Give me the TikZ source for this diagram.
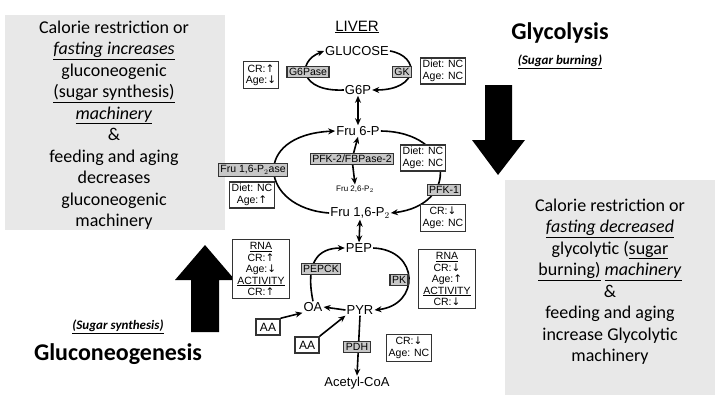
\documentclass[tikz,border=0pt]{standalone}
\usepackage{fontspec}
\setmainfont{Carlito}
\newfontfamily\diag{Liberation Sans}
\newfontfamily\sym{DejaVu Sans}
\usetikzlibrary{arrows.meta}
\newcommand{\UA}{{\sym\char"2191}}
\newcommand{\DA}{{\sym\char"2193}}
\begin{document}
\begin{tikzpicture}[x=1pt,y=-1pt,
  enz/.style={draw=black!80,line width=1.1pt,fill=black!22,inner sep=2pt,font=\diag\fontsize{10.5}{11}\selectfont},
  note/.style={draw=black!80,line width=1.3pt,fill=white,inner sep=2.5pt,align=center,font=\diag\fontsize{10.5}{11.5}\selectfont},
  met/.style={inner sep=1pt,font=\diag\fontsize{13}{14}\selectfont},
  flow/.style={line width=1.6pt,-{Stealth[length=7pt,width=6pt]}},
  side/.style={fill=black!9,draw=none},
  big/.style={align=center,font=\fontsize{18}{21.5}\selectfont}]
\useasboundingbox (0,0) rectangle (720,405);
\fill[white] (0,0) rectangle (720,405);
% side panels
\node[side,minimum width=220,minimum height=215,anchor=north west] (lp) at (5,15) {};
\node[big,anchor=north] (lt) at (114,17) {Calorie restriction or\\ \underline{\textit{fasting increases}}\\ gluconeogenic\\ \underline{(sugar synthesis)}\\ \underline{\textit{machinery}}\\ \&\\ feeding and aging\\ decreases\\ gluconeogenic\\ machinery};
\node[side,minimum width=210,minimum height=215,anchor=north west] (rp) at (505,180) {};
\node[big,anchor=north] (rt) at (610,195) {Calorie restriction or\\ \underline{\textit{fasting decreased}}\\ glycolytic (\underline{sugar}\\ \underline{burning)} \underline{\textit{machinery}}\\ \&\\ feeding and aging\\ increase Glycolytic\\ machinery};
\node[font=\bfseries\fontsize{24}{26}\selectfont] (gly) at (560,33) {Glycolysis};
\node[font=\bfseries\itshape\fontsize{13}{14}\selectfont] (sb) at (560,62) {\underline{(Sugar burning)}};
\node[font=\bfseries\fontsize{24}{26}\selectfont] (gng) at (118,354) {Gluconeogenesis};
\node[font=\bfseries\itshape\fontsize{13}{14}\selectfont] (ss) at (118,327) {\underline{(Sugar synthesis)}};
% big arrows
\fill (485,85) -- (512,85) -- (512,140) -- (525,140) -- (498,175) -- (472,140) -- (485,140) -- cycle;
\fill (191,332) -- (219,332) -- (219,280) -- (235,280) -- (205,245) -- (175,280) -- (191,280) -- cycle;
% metabolites
\node[font=\diag\fontsize{15}{16}\selectfont] (liver) at (357,27) {\underline{LIVER}};
\node[met] (glc) at (357,51) {GLUCOSE};
\node[met] (g6p) at (358,90) {G6P};
\node[met] (f6p) at (358,131) {Fru 6-P};
\node[met,font=\diag\fontsize{8}{9}\selectfont] (f26) at (355,189) {Fru 2,6-P$_2$};
\node[met] (f16) at (360,213) {Fru 1,6-P$_2$};
\node[met] (pep) at (359,248) {PEP};
\node[met] (oa) at (313,307) {OA};
\node[met] (pyr) at (360,310) {PYR};
\node[met] (acoa) at (357,383) {Acetyl-CoA};
% connectors
\draw[flow] (g6p.west) .. controls (300,92) and (296,62) .. (glc.west);
\draw[flow] (glc.east) .. controls (420,56) and (420,90) .. (g6p.east);
\draw[flow,{Stealth[length=7pt,width=6pt]}-{Stealth[length=7pt,width=6pt]}] (g6p.south) -- (f6p.north);
\draw[flow] (f16.west) .. controls (260,208) and (250,135) .. (f6p.west);
\draw[flow] (f6p.east) .. controls (455,132) and (460,205) .. (f16.east);
\coordinate (pfkc) at (352,159);
\draw[flow] (pfkc) -- (f6p.south);
\draw[flow] (pfkc) -- (f26.north);
\draw[flow,{Stealth[length=7pt,width=6pt]}-{Stealth[length=7pt,width=6pt]}] (f16.south) -- (pep.north);
\draw[flow] (pep.east) .. controls (420,250) and (420,305) .. (pyr.east);
\draw[flow] (oa.north) .. controls (305,262) and (318,248) .. (pep.west);
\draw[flow] (pyr.west) -- (oa.east);
\draw[flow] (pyr.south) -- (acoa.north);
% enzymes
\node[enz] (g6pase) at (308,72) {G6Pase};
\node[enz] (gk) at (402,72) {GK};
\node[enz] (pfk2) at (pfkc) {PFK-2/FBPase-2};
\node[enz] (fbp) at (253,170) {Fru 1,6-P$_2$ase};
\node[enz] (pfk1) at (444,190) {PFK-1};
\node[enz] (pepck) at (321,269) {PEPCK};
\node[enz] (pk) at (399,280) {PK};
\node[enz] (pdh) at (357,347) {PDH};
% notes
\node[note] (n1) at (261,75) {CR:\UA\\Age:\DA};
\node[note] (n2) at (443,71) {Diet: NC\\Age: NC};
\node[note] (n3) at (252,195) {Diet: NC\\Age:\UA};
\node[note] (n4) at (423,158) {Diet: NC\\Age: NC};
\node[note] (n5) at (443,218) {CR:\DA\\Age: NC};
\node[note,inner xsep=5pt] (n6) at (261,269) {\underline{RNA}\\CR:\UA\\Age:\DA\\\underline{ACTIVITY}\\CR:\UA};
\node[note,inner xsep=5pt] (n7) at (447,279) {\underline{RNA}\\CR:\DA\\Age:\UA\\\underline{ACTIVITY}\\CR:\DA};
\node[note,font=\diag\fontsize{12}{13}\selectfont,inner sep=4pt] (aa1) at (268,327) {AA};
\node[note,font=\diag\fontsize{12}{13}\selectfont,inner sep=4pt] (aa2) at (307,345) {AA};
\node[note] (n8) at (409,348) {CR:\DA\\Age: NC};
\draw[flow] (aa1.north east) -- (oa.south west);
\draw[flow] (aa2.north east) -- (pyr.south west);
\end{tikzpicture}
\end{document}
